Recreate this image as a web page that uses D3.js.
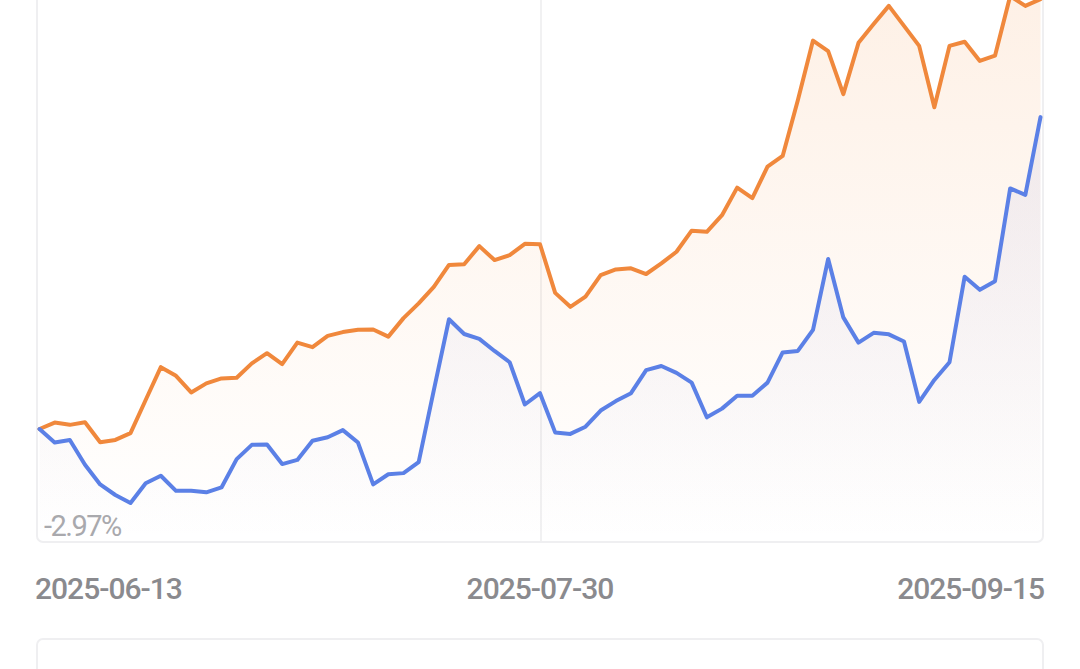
<!DOCTYPE html>
<html>
<head>
<meta charset="utf-8">
<script src="https://cdn.jsdelivr.net/npm/d3@7/dist/d3.min.js"></script>
<style>
  html, body { margin: 0; padding: 0; background: #ffffff; }
  svg { display: block; }
  text { font-family: Roboto, "Noto Sans", sans-serif; }
</style>
</head>
<body>
<svg id="chart" width="1080" height="669"></svg>
<script>
// ---- data (percent return, trading days 2025-06-13 .. 2025-09-15) ----
const startDate = "2025-06-13";
const midDate = "2025-07-30";
const endDate = "2025-09-15";
const xTickLabels = [startDate, midDate, endDate];
const yMinLabel = "-2.97%";
const yMin = -2.97;

// orange series
const seriesA = [
  0.00, 0.17, 0.11, 0.18, -0.35, -0.29, -0.11, 0.77, 1.64, 1.41,
  0.97, 1.21, 1.34, 1.36, 1.74, 2.01, 1.72, 2.29, 2.17, 2.47,
  2.57, 2.63, 2.64, 2.45, 2.94, 3.33, 3.77, 4.35, 4.37, 4.85,
  4.48, 4.61, 4.91, 4.90, 3.61, 3.24, 3.51, 4.08, 4.23, 4.26,
  4.11, 4.39, 4.70, 5.26, 5.23, 5.67, 6.40, 6.12, 6.96, 7.24,
  8.72, 10.30, 10.02, 8.88, 10.24, 10.74, 11.22, 10.69, 10.16, 8.53,
  10.16, 10.27, 9.76, 9.90, 11.48, 11.22, 11.40
];
// blue series
const seriesB = [
  0.00, -0.36, -0.29, -0.95, -1.47, -1.75, -1.96, -1.44, -1.24, -1.64,
  -1.64, -1.68, -1.55, -0.80, -0.42, -0.41, -0.93, -0.82, -0.31, -0.22,
  -0.03, -0.36, -1.47, -1.20, -1.17, -0.88, 1.03, 2.91, 2.52, 2.39,
  2.07, 1.77, 0.65, 0.95, -0.09, -0.13, 0.06, 0.49, 0.74, 0.95,
  1.56, 1.67, 1.49, 1.23, 0.31, 0.54, 0.88, 0.88, 1.23, 2.03,
  2.07, 2.63, 4.51, 2.96, 2.29, 2.55, 2.51, 2.32, 0.72, 1.30,
  1.77, 4.04, 3.69, 3.92, 6.38, 6.21, 8.27
];

// ---- layout ----
const plot = { left: 37, right: 1043, bottom: 542, top: -30 };
const yMax = 12.25;

const svg = d3.select("#chart");

const x = d3.scaleLinear()
  .domain([0, seriesA.length - 1])
  .range([39.5, 1040.5]);

const y = d3.scaleLinear()
  .domain([yMin, yMax])
  .range([541, 541 - (yMax - yMin) * 37.71]);

// gradients
const defs = svg.append("defs");
function grad(id, color, topOpacity, y1, y2) {
  const g = defs.append("linearGradient")
    .attr("id", id).attr("gradientUnits", "userSpaceOnUse")
    .attr("x1", 0).attr("x2", 0).attr("y1", y1).attr("y2", y2);
  g.append("stop").attr("offset", "0%").attr("stop-color", color).attr("stop-opacity", topOpacity);
  g.append("stop").attr("offset", "100%").attr("stop-color", color).attr("stop-opacity", 0);
}
grad("gA", "#f5903f", 0.13, y(d3.max(seriesA)), 541);
grad("gB", "#6272dc", 0.09, y(d3.max(seriesB)), 541);

// plot frame (card)
svg.append("rect")
  .attr("x", plot.left).attr("y", plot.top)
  .attr("width", plot.right - plot.left).attr("height", plot.bottom - plot.top)
  .attr("rx", 6)
  .attr("fill", "#ffffff")
  .attr("stroke", "#efeff1").attr("stroke-width", 2);

// vertical grid line at middle date
svg.append("line")
  .attr("x1", x(33) + 1).attr("x2", x(33) + 1)
  .attr("y1", 0).attr("y2", 541)
  .attr("stroke", "#ececee").attr("stroke-width", 1.5);

const area = d3.area()
  .x((d, i) => x(i))
  .y0(y(yMin))
  .y1(d => y(d));

const line = d3.line()
  .x((d, i) => x(i))
  .y(d => y(d));

svg.append("path").datum(seriesA)
  .attr("d", area).attr("fill", "url(#gA)");
svg.append("path").datum(seriesB)
  .attr("d", area).attr("fill", "url(#gB)");

svg.append("path").datum(seriesA)
  .attr("d", line).attr("fill", "none")
  .attr("stroke", "#f0883c").attr("stroke-width", 4)
  .attr("stroke-linejoin", "round").attr("stroke-linecap", "round");

svg.append("path").datum(seriesB)
  .attr("d", line).attr("fill", "none")
  .attr("stroke", "#5b80e6").attr("stroke-width", 4)
  .attr("stroke-linejoin", "round").attr("stroke-linecap", "round");

// y min label
svg.append("text")
  .attr("x", 44).attr("y", 536)
  .attr("font-size", 29).attr("letter-spacing", -1.5)
  .attr("fill", "#a9a9ad")
  .text(yMinLabel);

// x tick labels
const anchors = ["start", "middle", "end"];
const xPos = [35, x(33), 1044];
xTickLabels.forEach((t, i) => {
  svg.append("text")
    .attr("x", xPos[i]).attr("y", 599)
    .attr("text-anchor", anchors[i])
    .attr("font-size", 30).attr("letter-spacing", -1)
    .attr("font-weight", 500)
    .attr("fill", "#8a8a8e")
    .text(t);
});

// lower card (cut off)
svg.append("rect")
  .attr("x", 37).attr("y", 639)
  .attr("width", 1006).attr("height", 80)
  .attr("rx", 6)
  .attr("fill", "#ffffff")
  .attr("stroke", "#efeff1").attr("stroke-width", 2);
</script>
</body>
</html>
